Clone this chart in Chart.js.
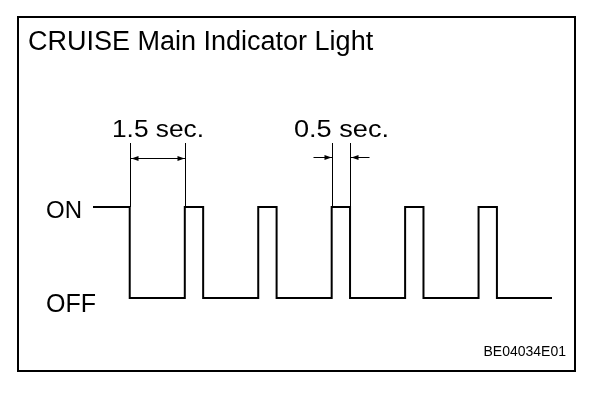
<!DOCTYPE html>
<html>
<head>
<meta charset="utf-8">
<script src="https://cdn.jsdelivr.net/npm/chart.js@4.4.1/dist/chart.umd.min.js"></script>
<style>
  body { margin: 0; background: #fff; }
  #wrap { width: 608px; height: 394px; }
</style>
</head>
<body>
<div id="wrap"><canvas id="mycanvas"></canvas></div>
<script>
// signal: time (sec) where each state starts, and the state (1 = ON, 0 = OFF)
var times  = [-1, 0, 1.5, 2, 3.5, 4, 5.5, 6, 7.5, 8, 9.5, 10, 11.5];
var states = [1, 0, 1, 0, 1, 0, 1, 0, 1, 0, 1, 0, 0];
var stateLabels = ['OFF', 'ON'];

// dimension marks: label, span start, span end, arrows inside or outside
var dimLabels = ['1.5 sec.', '0.5 sec.'];
var dimFrom   = [0, 5.5];
var dimTo     = [1.5, 6];
var dimInside = [true, false];

var title = 'CRUISE Main Indicator Light';
var figCode = 'BE04034E01';

var points = [];
for (var i in times) {
	points.push({x: times[i], y: states[i]});
}

var font = 'Liberation Sans, Arial, sans-serif';

function arrowHead(ctx, x, y, dir) {
	// dir = +1 points right, -1 points left
	ctx.beginPath();
	ctx.moveTo(x, y);
	ctx.lineTo(x - dir * 7, y - 2.5);
	ctx.lineTo(x - dir * 7, y + 2.5);
	ctx.closePath();
	ctx.fill();
}

function stretchedText(ctx, text, cx, y, size, width) {
	ctx.save();
	ctx.font = size + 'px ' + font;
	var w = ctx.measureText(text).width;
	ctx.translate(cx, y);
	ctx.scale(width / w, 1);
	ctx.textAlign = 'center';
	ctx.fillText(text, 0, 0);
	ctx.restore();
}

var decor = {
	id: 'decor',
	beforeDraw: function(chart) {
		var ctx = chart.ctx;
		ctx.save();
		ctx.fillStyle = '#fff';
		ctx.fillRect(0, 0, chart.width, chart.height);
		ctx.restore();
	},
	afterDraw: function(chart) {
		var ctx = chart.ctx;
		var xs = chart.scales.x, ys = chart.scales.y;
		var yOn = ys.getPixelForValue(1), yOff = ys.getPixelForValue(0);
		ctx.save();
		ctx.strokeStyle = '#000';
		ctx.fillStyle = '#000';

		// frame
		ctx.lineWidth = 2;
		ctx.strokeRect(18, 17, 557, 354);

		// title
		ctx.font = '27px ' + font;
		ctx.textBaseline = 'alphabetic';
		ctx.textAlign = 'left';
		ctx.fillText(title, 28, 50);

		// ON / OFF labels
		ctx.font = '24px ' + font;
		ctx.fillText(stateLabels[1], 46, yOn + 11);
		ctx.font = '25px ' + font;
		ctx.fillText(stateLabels[0], 46, yOff + 14);

		// dimensions
		ctx.lineWidth = 1;
		var yArrow = 158;
		for (var d = 0; d < dimLabels.length; d++) {
			var x1 = Math.round(xs.getPixelForValue(dimFrom[d])) + 0.5;
			var x2 = Math.round(xs.getPixelForValue(dimTo[d])) + 0.5;
			ctx.beginPath();
			ctx.moveTo(x1, 143); ctx.lineTo(x1, yOn);
			ctx.moveTo(x2, 143); ctx.lineTo(x2, yOn);
			ctx.stroke();
			if (dimInside[d]) {
				ctx.beginPath();
				ctx.moveTo(x1, yArrow + 0.5); ctx.lineTo(x2, yArrow + 0.5);
				ctx.stroke();
				arrowHead(ctx, x1 + 1, yArrow + 0.5, -1);
				arrowHead(ctx, x2 - 1, yArrow + 0.5, 1);
			} else {
				ctx.beginPath();
				ctx.moveTo(x1 - 19, yArrow - 0.5); ctx.lineTo(x1, yArrow - 0.5);
				ctx.moveTo(x2, yArrow - 0.5); ctx.lineTo(x2 + 19, yArrow - 0.5);
				ctx.stroke();
				arrowHead(ctx, x1 - 1, yArrow - 0.5, 1);
				arrowHead(ctx, x2 + 1, yArrow - 0.5, -1);
			}
			stretchedText(ctx, dimLabels[d], (x1 + x2) / 2, 137, 23, d === 0 ? 92 : 95);
		}

		// figure code
		ctx.font = '14px ' + font;
		ctx.textAlign = 'right';
		ctx.fillText(figCode, 566, 356);
		ctx.restore();
	}
};

var ctx = document.getElementById('mycanvas');
var chart = new Chart(ctx, {
	type: 'line',
	data: {
		datasets: [{
			data: points,
			stepped: 'before',
			borderColor: '#000',
			borderWidth: 2,
			pointRadius: 0,
			fill: false,
			clip: false
		}]
	},
	options: {
		responsive: true,
		maintainAspectRatio: false,
		devicePixelRatio: 1,
		animation: false,
		layout: { padding: { left: 93, right: 56, top: 207, bottom: 96 } },
		plugins: { legend: { display: false }, tooltip: { enabled: false } },
		scales: {
			x: { type: 'linear', min: -1, max: 11.5, display: false },
			y: { min: 0, max: 1, display: false }
		}
	},
	plugins: [decor]
});
</script>
</body>
</html>
